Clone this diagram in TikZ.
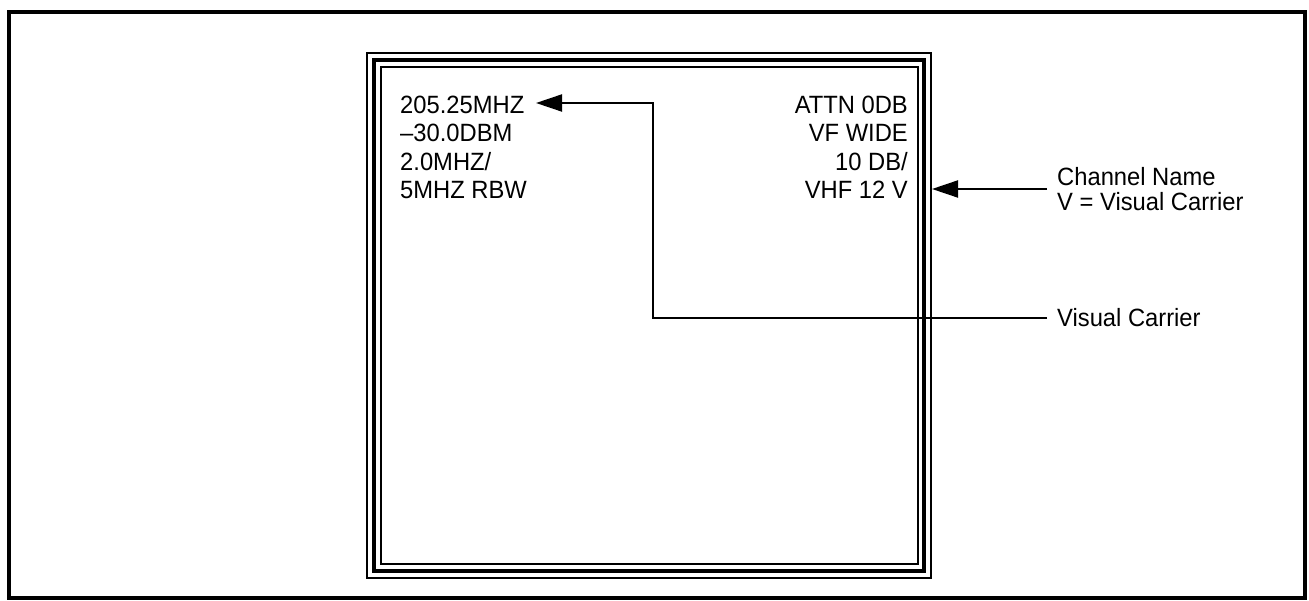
\documentclass[tikz,border=0pt]{standalone}
\usepackage{fontspec}
\setmainfont{Liberation Sans}[FakeStretch=0.95]
\usetikzlibrary{arrows.meta}
\begin{document}
\begin{tikzpicture}[x=1pt,y=-1pt,
  lbl/.style={inner sep=0pt, font=\fontsize{25}{28}\selectfont},
  conn/.style={line width=2pt},
  arr/.style={conn,-{Triangle[length=26pt,width=17pt]}},
  thinframe/.style={line width=1.5pt},
  thickframe/.style={line width=4pt}]
\useasboundingbox (0,0) rectangle (1309,601);
% outer border
\draw[line width=3.5pt] (9,12) rectangle (1305,598);
% triple screen frame
\draw[thinframe] (367,53) rectangle (931,578);
\draw[thickframe] (374,60) rectangle (924,571);
\draw[thinframe] (381,67) rectangle (918,564);
% left block
\node[lbl,anchor=base west] (l1) at (400,113.5) {205.25MHZ};
\node[lbl,anchor=base west] (l2) at (400,142) {\textendash30.0DBM};
\node[lbl,anchor=base west] (l3) at (400,170.5) {2.0MHZ/};
\node[lbl,anchor=base west] (l4) at (400,199) {5MHZ RBW};
% right block
\node[lbl,anchor=base east] (r1) at (908,113.5) {ATTN 0DB};
\node[lbl,anchor=base east] (r2) at (908,142) {VF WIDE};
\node[lbl,anchor=base east] (r3) at (908,170.5) {10 DB/};
\node[lbl,anchor=base east] (r4) at (908,199) {VHF 12 V};
% outside labels
\node[lbl,anchor=west] (cn) at (1057,177) {Channel Name};
\node[lbl,anchor=west] (vv) at (1057,202) {V = Visual Carrier};
\node[lbl,anchor=west] (vc) at (1057,318) {Visual Carrier};
% connectors
\coordinate (a1s) at (1047,318);
\coordinate (a1b) at (653,318);
\coordinate (a1t) at (536,103);
\draw[arr] (a1s) -- (a1b) |- (a1t);
\coordinate (a2s) at (1047,189);
\coordinate (a2t) at (932,189);
\draw[arr] (a2s) -- (a2t);
\end{tikzpicture}
\end{document}
